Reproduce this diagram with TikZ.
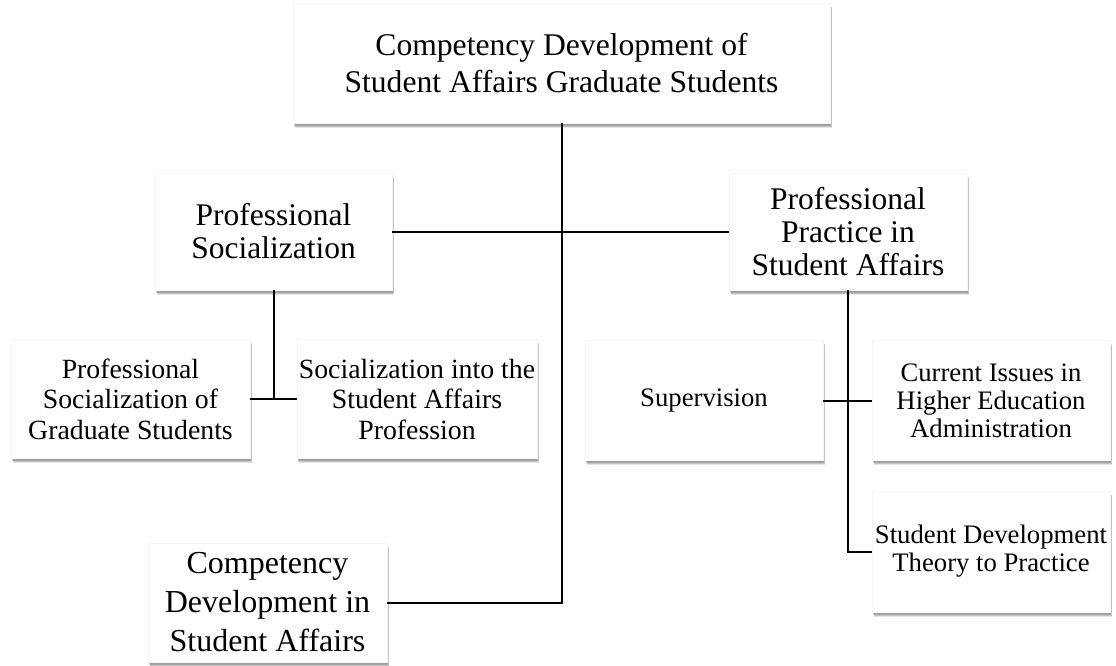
\documentclass[tikz,border=0pt]{standalone}
\usepackage{fontspec}
\setmainfont{Liberation Serif}
\usetikzlibrary{shadows}
\tikzset{
  box/.style={rectangle, fill=white, draw=black!4, line width=0.4pt, align=center, inner sep=2pt,
    drop shadow={shadow xshift=2pt, shadow yshift=-4.5pt, opacity=0.10, fill=black},
    drop shadow={shadow xshift=1.5pt, shadow yshift=-3.5pt, opacity=0.14, fill=black},
    drop shadow={shadow xshift=1pt, shadow yshift=-2.5pt, opacity=0.18, fill=black}},
  conn/.style={line width=2pt, black},
  big/.style={font=\fontsize{31.6}{37}\selectfont},
  mid/.style={font=\fontsize{31.5}{33}\selectfont},
  sml/.style={font=\fontsize{27.8}{30.5}\selectfont},
  sm/.style={font=\fontsize{26.7}{28}\selectfont},
}
\begin{document}
\begin{tikzpicture}[x=1pt,y=-1pt]
\useasboundingbox (0,0) rectangle (1116,665);
\fill[white] (0,0) rectangle (1116,665);
\node[box,big,minimum width=537pt,minimum height=120pt] (top) at (561.5,63) {Competency Development of\\Student Affairs Graduate Students};
\node[box,mid,minimum width=237pt,minimum height=117pt] (ps) at (273.5,231.5) {Professional\\Socialization};
\node[box,mid,minimum width=238pt,minimum height=117pt] (pp) at (848,231.5) {Professional\\Practice in\\Student Affairs};
\node[box,sml,minimum width=239pt,minimum height=119pt] (psogs) at (130.5,399) {Professional\\Socialization of\\Graduate Students};
\node[box,sml,minimum width=238pt,minimum height=119pt] (soc) at (417,399) {Socialization into the\\Student Affairs\\Profession};
\node[box,sm,minimum width=238pt,minimum height=120pt] (sup) at (704,400.5) {Supervision};
\node[box,sm,minimum width=238pt,minimum height=120pt] (cur) at (991,400.5) {Current Issues in\\Higher Education\\Administration};
\node[box,sm,minimum width=238pt,minimum height=121pt] (sdt) at (991,551.5) {Student Development\\Theory to Practice};
\node[box,font=\fontsize{32}{39}\selectfont,minimum width=239pt,minimum height=119pt] (cdsa) at (267.5,602.5) {Competency\\Development in\\Student Affairs};
\draw[conn] (top.south) |- (cdsa.east);
\draw[conn] (ps.east) -- (pp.west);
\draw[conn] (ps.south) -- (ps.south |- psogs.east);
\draw[conn] (psogs.east) -- (soc.west);
\draw[conn] (pp.south) |- (sdt.west);
\draw[conn] (sup.east) -- (cur.west);
\end{tikzpicture}
\end{document}
